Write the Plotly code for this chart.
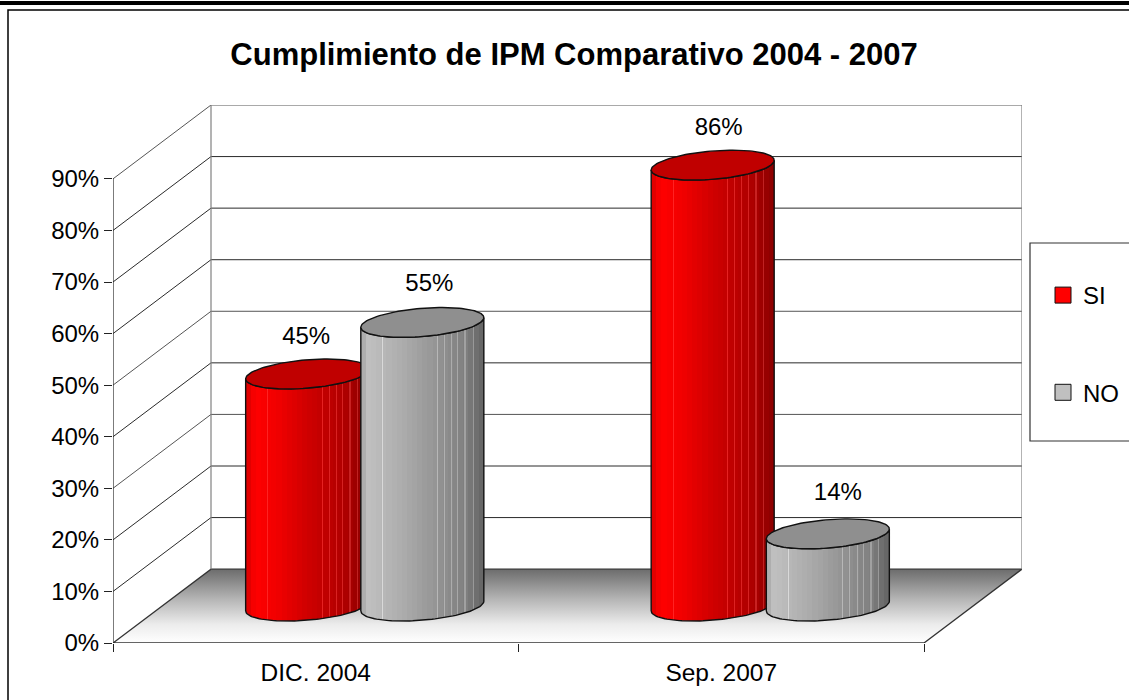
import math
import plotly.graph_objects as go

categories = ["DIC. 2004", "Sep. 2007"]
series_names = ["SI", "NO"]
si_values = [45, 85.5]
no_values = [55, 14]
y_ticks = [0, 10, 20, 30, 40, 50, 60, 70, 80, 90]
title_text = "Cumplimiento de IPM Comparativo 2004 - 2007"

W, H = 1129, 700
X0, X2, XB = 113, 924, 1022
Y0, Y90, YB = 643, 178, 105
PXX = (X2 - X0) / 2
PXY = (Y0 - Y90) / 90
DX = (XB - X2) / PXX
DY = (Y0 - 569) / PXY
FONT = "Liberation Sans"
OFF = 0.142
A = 58.2 / PXX
VX = 19.9 / PXX
VY = 15 / PXY
GRID = "#2a2a2a"
SI_LABEL_SHIFT = [(-1, 36), (6, 36)]
NO_LABEL_SHIFT = [(7, 38), (10, 40)]

RED = [(0, (216, 0, 0)), (.08, (255, 0, 0)), (.25, (242, 0, 0)), (.5, (208, 0, 0)), (.8, (176, 0, 0)), (1, (140, 0, 0))]
GRAY = [(0, (165, 165, 165)), (.06, (192, 192, 192)), (.3, (176, 176, 176)), (.6, (150, 150, 150)), (.85, (128, 128, 128)), (1, (100, 100, 100))]
STREAKS = (.18, .62, .68, .74, .79, .85, .91)
BANDS = 24
STEPS = 120


def stepped(stops):
    out = []
    for i in range(STEPS):
        f = (i + .5) / STEPS
        q = (math.floor(f * BANDS) + .5) / BANDS
        for (a, ca), (b, cb) in zip(stops, stops[1:]):
            if a <= q <= b:
                t = (q - a) / (b - a)
                c = [ca[k] + (cb[k] - ca[k]) * t for k in range(3)]
                break
        if any(abs(f - s) < .5 / STEPS for s in STREAKS):
            c = [min(255, v + 34) for v in c]
        col = f"rgb({int(c[0])},{int(c[1])},{int(c[2])})"
        out += [[i / STEPS, col], [(i + 1) / STEPS, col]]
    return out


def ell(cx, cy, t):
    return cx + A * math.cos(t) + VX * math.sin(t), cy + VY * math.sin(t)


fig = go.Figure()


def line(xs, ys, color=GRID, width=1):
    fig.add_trace(go.Scatter(x=xs, y=ys, mode="lines", line=dict(color=color, width=width),
                             showlegend=False, hoverinfo="skip"))


# floor
fig.add_trace(go.Scatter(
    x=[0, 2, 2 + DX, DX, 0], y=[0, 0, DY, DY, 0], mode="lines", fill="toself",
    line=dict(color="#333333", width=1.3),
    fillgradient=dict(type="vertical", colorscale=[[0, "#ffffff"], [.25, "#ececec"], [.6, "#b4b4b4"], [1, "#6c6c6c"]]),
    showlegend=False, hoverinfo="skip"))

# walls and grid
for v in y_ticks[1:]:
    line([0, DX, 2 + DX], [v, v + DY, v + DY], "#555555" if v in (30, 50, 90) else GRID)
line([DX, DX], [DY, 90 + DY], "#808080", 1.2)
line([2 + DX, 2 + DX], [DY, 90 + DY], "#808080", 1.2)
line([0, 0], [0, 90], "#222222", 1.2)


def cylinder(cx, val, scale, top_col, shift):
    tr = math.atan2(VX, A)
    n = 60
    base_cx, base_cy = cx + DX / 2, DY / 2
    top_cy = base_cy + val
    # silhouette: lower arc of the base from the left extreme to the right extreme
    rng = [-(math.pi - tr) + math.pi * i / n for i in range(n + 1)]
    low = [ell(base_cx, base_cy, t) for t in rng]
    up = [ell(base_cx, top_cy, t) for t in reversed(rng)]
    pts = low + up + [low[0]]
    fig.add_trace(go.Scatter(
        x=[p[0] for p in pts], y=[p[1] for p in pts], mode="lines", fill="toself",
        line=dict(color="#111111", width=1.4),
        fillgradient=dict(type="horizontal", colorscale=stepped(scale)),
        showlegend=False, hoverinfo="skip"))
    top = [ell(base_cx, top_cy, 2 * math.pi * i / 120) for i in range(121)]
    fig.add_trace(go.Scatter(
        x=[p[0] for p in top], y=[p[1] for p in top], mode="lines", fill="toself",
        fillcolor=top_col, line=dict(color="#111111", width=1.4),
        showlegend=False, hoverinfo="skip"))
    fig.add_trace(go.Scatter(
        x=[base_cx + shift[0] / PXX], y=[top_cy + shift[1] / PXY], mode="text", text=[f"{val:.0f}%"],
        textposition="middle center", textfont=dict(family=FONT, size=24, color="#000000"),
        showlegend=False, hoverinfo="skip"))


for i in range(len(categories)):
    cylinder(i + .5 - OFF, si_values[i], RED, "#c00000", SI_LABEL_SHIFT[i])
    cylinder(i + .5 + OFF, no_values[i], GRAY, "#8f8f8f", NO_LABEL_SHIFT[i])

# legend entries
for name, col in zip(series_names, ["#ff0000", "#c0c0c0"]):
    fig.add_trace(go.Scatter(x=[None], y=[None], mode="markers", name=name, legendgroup=name,
                             marker=dict(symbol="square", size=16.5, color=col, line=dict(color="#111111", width=1))))

fig.update_layout(
    width=W, height=H, margin=dict(l=0, r=0, t=0, b=0),
    paper_bgcolor="white", plot_bgcolor="rgba(0,0,0,0)",
    font=dict(family=FONT, color="#000000"),
    title=dict(text=f"<b>{title_text}</b>", x=574 / W, xanchor="center", y=1 - 54 / H, yanchor="middle",
               font=dict(family=FONT, size=31, color="#000000")),
    xaxis=dict(domain=[X0 / W, XB / W], range=[0, 2 + DX], showgrid=False, zeroline=False, showline=False,
               automargin=False, tickmode="array", tickvals=[.5, 1.5], ticktext=categories,
               ticks="outside", ticklen=8, tickcolor="rgba(0,0,0,0)",
               tickfont=dict(family=FONT, size=24.5),
               minor=dict(tickmode="array", tickvals=[0, 1, 2], ticks="outside", ticklen=8, tickcolor="#222222", tickwidth=1.2)),
    yaxis=dict(domain=[1 - Y0 / H, 1 - YB / H], range=[0, 90 + DY], showgrid=False, zeroline=False, showline=False,
               automargin=False, tickmode="array", tickvals=y_ticks, ticktext=[f"{v}%" for v in y_ticks], ticks="outside", ticklen=8,
               tickcolor="#222222", tickwidth=1.2, tickfont=dict(family=FONT, size=24)),
    legend=dict(x=1043 / W, xanchor="left", y=1 - 273 / H, yanchor="top", bgcolor="rgba(0,0,0,0)", borderwidth=0,
                tracegroupgap=63, font=dict(family=FONT, size=24), itemclick=False, itemdoubleclick=False),
    shapes=[
        dict(type="rect", xref="paper", yref="paper", x0=-.01, x1=1.01, y0=1 - 5 / H, y1=1 - 1 / H,
             fillcolor="#000000", line=dict(width=0), layer="below"),
        dict(type="rect", xref="paper", yref="paper", x0=8 / W, x1=1.01, y0=-.01, y1=1 - 10 / H,
             line=dict(color="#000000", width=1.5), layer="below"),
        dict(type="rect", xref="paper", yref="paper", x0=1030 / W, x1=1.01, y0=1 - 441 / H, y1=1 - 243 / H,
             fillcolor="#ffffff", line=dict(color="#333333", width=1.2), layer="above"),
    ],
)
fig.write_html("out.html", post_script="document.body.style.margin='0';", config={"displayModeBar": False})
